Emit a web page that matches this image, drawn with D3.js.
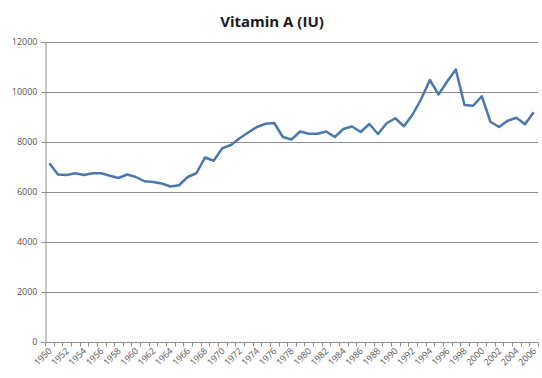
<!DOCTYPE html>
<html><head><meta charset="utf-8">
<script src="https://cdn.jsdelivr.net/npm/d3@7/dist/d3.min.js"></script>
<style>body{margin:0;background:#fff}svg{display:block}</style>
</head><body>
<script>
const years = d3.range(1950, 2007);
const values = [7150,6700,6680,6750,6680,6750,6750,6650,6560,6700,
  6600,6430,6400,6340,6220,6270,6600,6750,7380,7250,
  7750,7880,8150,8380,8600,8730,8760,8200,8100,8420,
  8330,8330,8420,8200,8520,8620,8400,8720,8320,8750,
  8950,8630,9100,9720,10480,9900,10420,10900,9480,9450,
  9830,8810,8600,8850,8970,8710,9190];
const yTicks = [0,2000,4000,6000,8000,10000,12000];
const title = "Vitamin A (IU)";

const W = 542, H = 378;
const mLeft = 45, mRight = 538, mTop = 42, mBottom = 342;
const svg = d3.select("body").append("svg").attr("width", W).attr("height", H);

const x = d3.scaleBand().domain(years).range([mLeft, mRight]);
const y = d3.scaleLinear().domain([0, 12000]).range([mBottom, mTop]);

// gridlines
svg.append("g").selectAll("line").data(yTicks.filter(d => d > 0)).join("line")
  .attr("x1", mLeft).attr("x2", mRight)
  .attr("y1", d => y(d)+0.5).attr("y2", d => y(d)+0.5)
  .attr("stroke", "#8c8c8c").attr("stroke-width", 1);

// y axis
const ya = svg.append("g").attr("transform", `translate(${mLeft+0.5},0)`)
  .call(d3.axisLeft(y).tickValues(yTicks).tickSize(4).tickPadding(4).tickFormat(d3.format("d")));
ya.select(".domain").attr("stroke", "#8c8c8c");
ya.selectAll(".tick line").attr("stroke", "#8c8c8c");
ya.selectAll("text").attr("fill", "#555").style("font-family", "'Open Sans', sans-serif").style("font-size", "9px");

// x axis
const xa = svg.append("g").attr("transform", `translate(0,${mBottom+0.5})`);
xa.append("line").attr("x1", mLeft).attr("x2", mRight).attr("stroke", "#8c8c8c");
const bounds = years.map(d => x(d)).concat([x(years[years.length-1]) + x.bandwidth()]);
xa.selectAll("line.tk").data(bounds).join("line").attr("class","tk")
  .attr("x1", d => Math.round(d)+0.5).attr("x2", d => Math.round(d)+0.5)
  .attr("y1", 0).attr("y2", 4).attr("stroke", "#8c8c8c");
xa.selectAll("text").data(years.filter(d => (d-1950) % 2 === 0)).join("text")
  .attr("transform", d => `translate(${x(d)+x.bandwidth()/2+3},${9}) rotate(-45)`)
  .attr("text-anchor", "end")
  .attr("fill", "#555")
  .style("font-family", "'Open Sans', sans-serif").style("font-size", "9px")
  .text(d => d);

// line
const line = d3.line().x((d,i) => x(years[i]) + x.bandwidth()/2).y(d => y(d));
svg.append("path").datum(values).attr("d", line)
  .attr("fill", "none").attr("stroke", "#4a78ad").attr("stroke-width", 2.5)
  .attr("stroke-linejoin", "round");

svg.append("text").attr("x", 272).attr("y", 27).attr("text-anchor", "middle")
  .style("font-family", "'Open Sans', sans-serif").style("font-weight", "bold").style("font-size", "15px")
  .attr("fill", "#1a1a1a").text(title);
</script>
</body></html>
